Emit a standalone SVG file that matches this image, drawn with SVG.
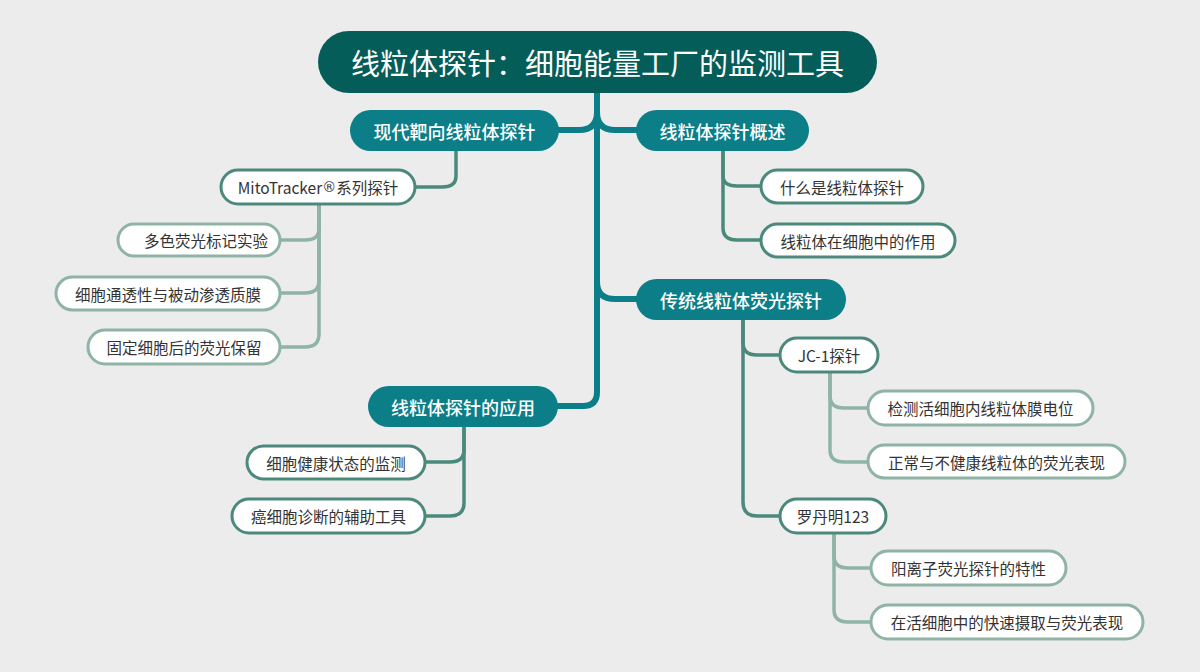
<svg xmlns="http://www.w3.org/2000/svg" width="1200" height="672" viewBox="0 0 1200 672">
<style>
.t{font-family:"Noto Sans CJK SC","Liberation Sans",sans-serif;text-anchor:middle;dominant-baseline:central}
.root{fill:#055d59}
.main{fill:#0b7e88}
.mt{fill:#fff;font-size:18px;font-weight:500}
.sub{fill:#fff;stroke:#4b897d;stroke-width:3}
.leaf{fill:#fff;stroke:#8fb3a5;stroke-width:3}
.st{fill:#333;font-size:15.5px}
.c0{fill:none;stroke:#0b7e88;stroke-width:6;stroke-linecap:round}
.c1{fill:none;stroke:#4b897d;stroke-width:3.5;stroke-linecap:round}
.c2{fill:none;stroke:#8fb3a5;stroke-width:3.5;stroke-linecap:round}
</style>
<rect width="1200" height="672" fill="#ececec"/>
<g id="connectors">
<path class="c0" d="M597,93 V392 Q597,406 583,406 H558"/>
<path class="c0" d="M597,112 Q597,130 579,130 H559"/>
<path class="c0" d="M597,112 Q597,130 615,130 H636"/>
<path class="c0" d="M597,282 Q597,299 615,299 H636"/>
<path class="c1" d="M456,151 V176 Q456,187 442,187 H415"/>
<path class="c1" d="M723,151 V176 Q723,186 737,186 H761"/>
<path class="c1" d="M723,151 V228 Q723,240 737,240 H761"/>
<path class="c1" d="M743,320 V343 Q743,355 757,355 H780"/>
<path class="c1" d="M743,320 V502 Q743,516 757,516 H780"/>
<path class="c1" d="M464,427 V450 Q464,462 450,462 H425"/>
<path class="c1" d="M464,427 V503 Q464,516 450,516 H425"/>
<path class="c2" d="M319,204 V229 Q319,240 305,240 H280"/>
<path class="c2" d="M319,204 V281 Q319,293 305,293 H280"/>
<path class="c2" d="M319,204 V334 Q319,347 305,347 H280"/>
<path class="c2" d="M830,372 V396 Q830,408 844,408 H868"/>
<path class="c2" d="M830,372 V450 Q830,462 844,462 H868"/>
<path class="c2" d="M834,533 V556 Q834,568 848,568 H871"/>
<path class="c2" d="M834,533 V610 Q834,622 848,622 H871"/>
</g>
<g id="root"><rect class="root" x="318" y="31" width="559" height="62" rx="31"/><text class="t" x="597.5" y="62" fill="#fff" font-size="29">线粒体探针：细胞能量工厂的监测工具</text></g>
<g id="n1"><rect class="main" x="350" y="110" width="209" height="41" rx="20.5"/><text class="t mt" x="454.5" y="130.5">现代靶向线粒体探针</text></g>
<g id="n2"><rect class="main" x="636" y="110" width="173" height="41" rx="20.5"/><text class="t mt" x="722.5" y="130.5">线粒体探针概述</text></g>
<g id="n3"><rect class="main" x="636" y="279" width="210" height="41" rx="20.5"/><text class="t mt" x="741" y="299.5">传统线粒体荧光探针</text></g>
<g id="n4"><rect class="main" x="368" y="386" width="190" height="41" rx="20.5"/><text class="t mt" x="463" y="406.5">线粒体探针的应用</text></g>
<g id="n1a"><rect class="sub" x="221" y="170" width="194" height="34" rx="17"/><text class="t st" x="318" y="187">MitoTracker<tspan font-family="DejaVu Sans" font-size="14">®</tspan>系列探针</text></g>
<g id="n1a1"><rect class="leaf" x="118" y="224" width="162" height="32" rx="16"/><text class="t st" x="206" y="240">多色荧光标记实验</text></g>
<g id="n1a2"><rect class="leaf" x="56" y="277" width="224" height="33" rx="16.5"/><text class="t st" x="168" y="293.5">细胞通透性与被动渗透质膜</text></g>
<g id="n1a3"><rect class="leaf" x="88" y="330" width="192" height="34" rx="17"/><text class="t st" x="184" y="347">固定细胞后的荧光保留</text></g>
<g id="n2a"><rect class="sub" x="761" y="170" width="162" height="33" rx="16.5"/><text class="t st" x="842" y="186.5">什么是线粒体探针</text></g>
<g id="n2b"><rect class="sub" x="761" y="224" width="194" height="33" rx="16.5"/><text class="t st" x="858" y="240.5">线粒体在细胞中的作用</text></g>
<g id="n3a"><rect class="sub" x="780" y="338" width="98" height="34" rx="17"/><text class="t st" x="829" y="355">JC-1探针</text></g>
<g id="n3a1"><rect class="leaf" x="868" y="391" width="225" height="34" rx="17"/><text class="t st" x="980.5" y="408">检测活细胞内线粒体膜电位</text></g>
<g id="n3a2"><rect class="leaf" x="868" y="445" width="257" height="33" rx="16.5"/><text class="t st" x="996.5" y="461.5">正常与不健康线粒体的荧光表现</text></g>
<g id="n3b"><rect class="sub" x="780" y="499" width="106" height="34" rx="17"/><text class="t st" x="833" y="516">罗丹明123</text></g>
<g id="n3b1"><rect class="leaf" x="871" y="551" width="195" height="34" rx="17"/><text class="t st" x="968.5" y="568">阳离子荧光探针的特性</text></g>
<g id="n3b2"><rect class="leaf" x="871" y="605" width="272" height="34" rx="17"/><text class="t st" x="1007" y="622">在活细胞中的快速摄取与荧光表现</text></g>
<g id="n4a"><rect class="sub" x="247" y="446" width="178" height="33" rx="16.5"/><text class="t st" x="336" y="462.5">细胞健康状态的监测</text></g>
<g id="n4b"><rect class="sub" x="232" y="499" width="193" height="34" rx="17"/><text class="t st" x="328.5" y="516">癌细胞诊断的辅助工具</text></g>
</svg>
